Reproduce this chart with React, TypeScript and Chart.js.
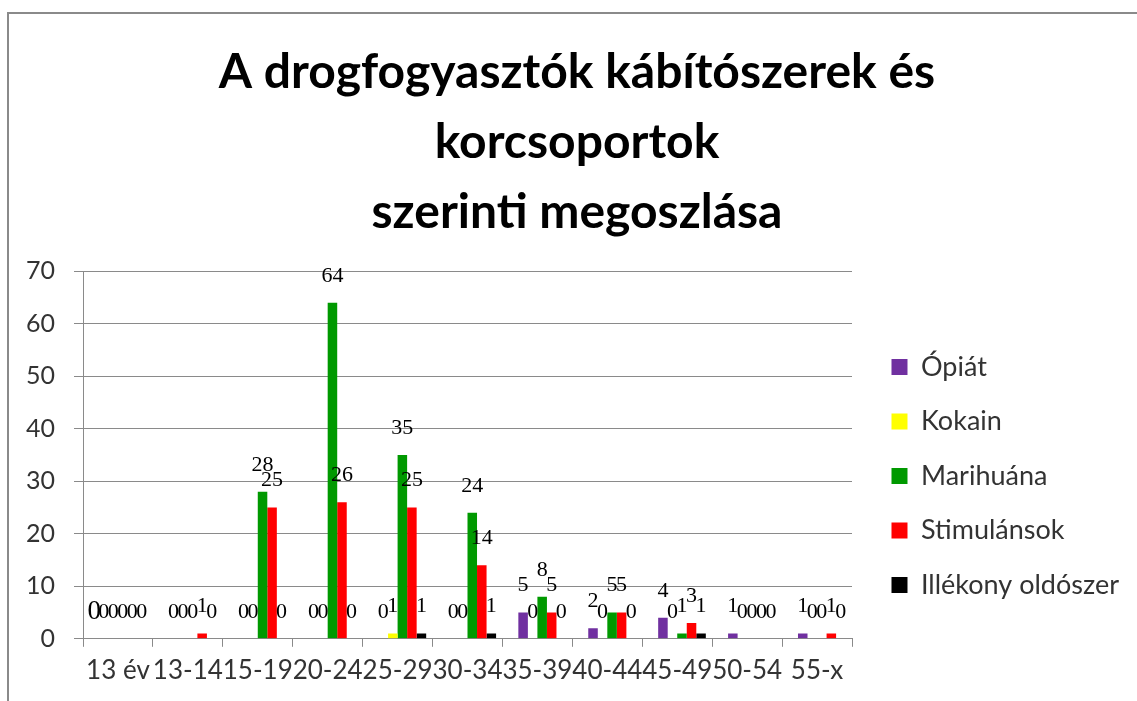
import React, { useEffect, useRef } from 'react';
import { Chart, registerables } from 'chart.js';

Chart.register(...registerables);

const categories = ['13 év', '13-14', '15-19', '20-24', '25-29', '30-34', '35-39', '40-44', '45-49', '50-54', '55-x'];
const seriesNames = ['Ópiát', 'Kokain', 'Marihuána', 'Stimulánsok', 'Illékony oldószer'];
const extraSeries = [0, null, null, null, null, null, null, null, null, null, null];
const opiat = [0, 0, 0, 0, 0, 0, 5, 2, 4, 1, 1];
const kokain = [0, 0, 0, 0, 1, 0, 0, 0, 0, 0, 0];
const marihuana = [0, 0, 28, 64, 35, 24, 8, 5, 1, 0, 0];
const stimulansok = [0, 1, 25, 26, 25, 14, 5, 5, 3, 0, 1];
const illekony = [0, 0, 0, 0, 1, 1, 0, 0, 1, 0, 0];
const colors = ['#7030A0', '#FFFF00', '#009900', '#FF0000', '#000000'];
const titleLines = ['A drogfogyasztók kábítószerek és', 'korcsoportok', 'szerinti megoszlása'];
const yTicks = { min: 0, max: 70, step: 10 };

const W = 1137;
const H = 701;
const PAD_L = 25;
const PAD_R = 8;
const PAD_B = 7;
const AXIS_LEFT = 83;
const AXIS_RIGHT = 850;
const LEGEND_PAD = 28.5;
const LEGEND_FONT = 27;
const LEGEND_BOX = 16;

const textColor = '#333333';
const lineColor = '#8a8a8a';

const backgroundPlugin = {
  id: 'bgBorder',
  beforeDraw(chart: any) {
    const ctx = chart.ctx;
    ctx.save();
    ctx.fillStyle = '#ffffff';
    ctx.fillRect(0, 0, chart.width, chart.height);
    ctx.strokeStyle = lineColor;
    ctx.lineWidth = 2;
    ctx.beginPath();
    ctx.moveTo(8, chart.height);
    ctx.lineTo(8, 13);
    ctx.lineTo(chart.width, 13);
    ctx.stroke();
    ctx.restore();
  },
};

const labelPlugin = {
  id: 'barValueLabels',
  afterDatasetsDraw(chart: any) {
    const ctx = chart.ctx;
    ctx.save();
    ctx.fillStyle = '#000000';
    ctx.textAlign = 'center';
    ctx.textBaseline = 'middle';
    chart.data.datasets.forEach((ds: any, i: number) => {
      const meta = chart.getDatasetMeta(i);
      if (meta.hidden) return;
      ctx.font = (i === 0 ? '27px' : '22px') + ' "Liberation Serif", serif';
      meta.data.forEach((el: any, j: number) => {
        const v = ds.data[j];
        if (v === null || v === undefined) return;
        ctx.fillText(String(v), el.x, el.y - 27);
      });
    });
    ctx.restore();
  },
};

export default function App() {
  const ref = useRef<HTMLCanvasElement | null>(null);

  useEffect(() => {
    document.body.style.margin = '0';
    if (!ref.current) return;

    // legend width (as Chart.js computes it) to keep the plot's right edge in place
    const mctx = document.createElement('canvas').getContext('2d') as CanvasRenderingContext2D;
    mctx.font = `${LEGEND_FONT}px Lato`;
    const maxText = Math.max(...seriesNames.map((n) => mctx.measureText(n).width));
    const legendWidth = LEGEND_PAD + LEGEND_BOX + LEGEND_FONT / 2 + maxText + 10;
    const legendLeft = W - PAD_R - legendWidth;
    const spacerWidth = Math.max(0, legendLeft - AXIS_RIGHT);

    const allSeries = [opiat, kokain, marihuana, stimulansok, illekony];
    const datasets: any[] = [
      {
        label: '',
        data: extraSeries,
        backgroundColor: 'rgba(0,0,0,0)',
        borderWidth: 0,
      },
      ...allSeries.map((d, i) => ({
        label: seriesNames[i],
        data: d,
        backgroundColor: colors[i],
        borderWidth: 0,
      })),
    ];
    const chart = new Chart(ref.current, {
      type: 'bar',
      data: { labels: categories, datasets },
      options: {
        responsive: false,
        animation: false,
        devicePixelRatio: 1,
        layout: { padding: { left: PAD_L, right: PAD_R, top: 0, bottom: PAD_B } },
        datasets: {
          bar: { categoryPercentage: 0.818, barPercentage: 1.0 },
        },
        plugins: {
          tooltip: { enabled: false },
          title: {
            display: true,
            text: titleLines,
            color: '#000000',
            font: { family: 'Lato', size: 48, weight: 'bold', lineHeight: 1.46 },
            padding: { top: 37, bottom: 24 },
          },
          legend: {
            display: true,
            position: 'right',
            align: 'center',
            fullSize: false,
            maxWidth: 400,
            title: {
              display: true,
              text: '',
              font: { size: 10, lineHeight: 1 },
              padding: { top: 16, bottom: 16 },
            },
            labels: {
              boxWidth: LEGEND_BOX,
              boxHeight: LEGEND_BOX,
              padding: LEGEND_PAD - 1,
              color: textColor,
              font: { family: 'Lato', size: LEGEND_FONT },
              filter: (item: any) => item.text !== '',
            },
          },
        },
        scales: {
          x: {
            type: 'category',
            offset: true,
            grid: {
              offset: true,
              drawOnChartArea: false,
              drawTicks: true,
              tickLength: 8,
              color: lineColor,
            },
            border: { color: lineColor },
            ticks: {
              color: textColor,
              font: { family: 'Lato', size: 26 },
              padding: 8,
              maxRotation: 0,
              minRotation: 0,
              autoSkip: false,
            },
          },
          y: {
            type: 'linear',
            position: 'left',
            min: yTicks.min,
            max: yTicks.max,
            grid: { color: lineColor, tickLength: 9 },
            border: { color: lineColor },
            ticks: {
              stepSize: yTicks.step,
              color: textColor,
              font: { family: 'Lato', size: 25 },
              padding: 19,
            },
            afterFit: (s: any) => {
              s.width = AXIS_LEFT - PAD_L;
            },
          },
          spacer: {
            type: 'linear',
            position: 'right',
            display: true,
            min: 0,
            max: 1,
            grid: { display: false, drawTicks: false },
            border: { display: false },
            ticks: { display: false },
            afterFit: (s: any) => {
              s.width = spacerWidth - 1;
            },
          },
        },
      } as any,
      plugins: [backgroundPlugin, labelPlugin],
    });
    return () => chart.destroy();
  }, []);

  return (
    <div style={{ position: 'fixed', left: 0, top: 0, width: W, height: H, overflow: 'hidden', background: '#fff' }}>
      <canvas ref={ref} width={W} height={H} style={{ width: W, height: H, display: 'block' }} />
    </div>
  );
}
